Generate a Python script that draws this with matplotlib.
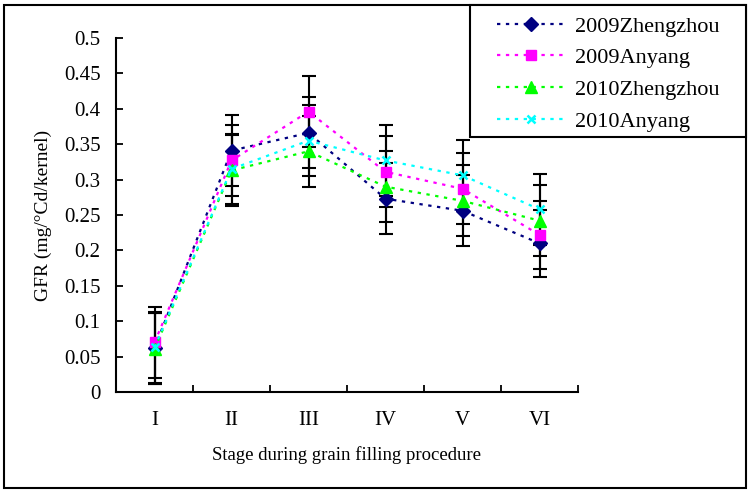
import matplotlib
matplotlib.use("Agg")
import matplotlib.pyplot as plt
from matplotlib.patches import Rectangle

plt.rcParams['font.family'] = ['Liberation Serif', 'DejaVu Serif']

# Stages and GFR values
stages = ["I", "II", "III", "IV", "V", "VI"]
zz2009 = [0.062, 0.341, 0.366, 0.273, 0.256, 0.210]
ay2009 = [0.070, 0.327, 0.396, 0.311, 0.287, 0.222]
zz2010 = [0.061, 0.313, 0.340, 0.290, 0.270, 0.242]
ay2010 = [0.063, 0.315, 0.355, 0.327, 0.306, 0.258]

# error bar half widths
err_zz2009 = [0.050, 0.050, 0.050, 0.050, 0.050, 0.047]
err_ay2009 = [0.050, 0.050, 0.050, 0.050, 0.050, 0.048]
err_zz2010 = [0.050, 0.050, 0.050, 0.050, 0.050, 0.050]
err_ay2010 = [0.050, 0.050, 0.050, 0.050, 0.050, 0.050]

series = [
    ("2009Zhengzhou", zz2009, err_zz2009, "#000080", "D", 7),
    ("2009Anyang", ay2009, err_ay2009, "#FF00FF", "s", 7),
    ("2010Zhengzhou", zz2010, err_zz2010, "#00FF00", "^", 8),
    ("2010Anyang", ay2010, err_ay2010, "#00FFFF", "x", 6),
]

fig = plt.figure(figsize=(7.51, 4.93), dpi=100)
ax = fig.add_axes([116 / 751, 1 - 392 / 493, (578 - 116) / 751, (392 - 38) / 493])

x = list(range(len(stages)))

# error bars first, drawn in black
for name, vals, errs, color, marker, ms in series:
    ax.errorbar(x, vals, yerr=errs, fmt='none', ecolor='black',
                elinewidth=1.5, capsize=5, capthick=1.5, zorder=2)

handles = []
for name, vals, errs, color, marker, ms in series:
    mew = 1.8 if marker == "x" else 1
    h, = ax.plot(x, vals, linestyle=(0, (1.5, 2.5)), linewidth=1.6, color=color,
                 marker=marker, markersize=ms, markeredgewidth=mew,
                 markerfacecolor=color, markeredgecolor=color, label=name, zorder=3)
    handles.append(h)

ax.set_xlim(-0.5, len(stages) - 0.5)
ax.set_ylim(0, 0.5)
ax.set_yticks([0, 0.05, 0.1, 0.15, 0.2, 0.25, 0.3, 0.35, 0.4, 0.45, 0.5])
ax.set_yticklabels(["0", "0.05", "0.1", "0.15", "0.2", "0.25", "0.3",
                    "0.35", "0.4", "0.45", "0.5"])
ax.set_xticks(x)
ax.set_xticklabels(stages)
ax.set_xticks([i + 0.5 for i in x], minor=True)
ax.tick_params(axis='x', which='major', length=0, pad=14, labelsize=15)
ax.tick_params(axis='x', which='minor', direction='in', length=5, width=1.3)
ax.tick_params(axis='y', direction='in', length=5, width=1.3, pad=11, labelsize=15)

for side in ["top", "right"]:
    ax.spines[side].set_visible(False)
for side in ["left", "bottom"]:
    ax.spines[side].set_linewidth(1.5)

ax.set_xlabel("Stage during grain filling procedure", fontsize=13.5, labelpad=11)
ax.set_ylabel("GFR (mg/\u00b0Cd/kernel)", fontsize=14, labelpad=9)

# outer frame around the whole picture
fig.patches.append(Rectangle((4 / 751, 1 - 488 / 493), 742 / 751, 483 / 493,
                             transform=fig.transFigure, fill=False,
                             edgecolor='black', linewidth=1.5))

# legend box drawn separately so the entries can sit indented like the original
fig.patches.append(Rectangle((470 / 751, 1 - 137 / 493), 276 / 751, 132 / 493,
                             transform=fig.transFigure, facecolor='white',
                             edgecolor='black', linewidth=1.5, zorder=5))
leg = fig.legend(handles=handles, loc='upper left',
                 bbox_to_anchor=(497 / 751, 1 - 16 / 493),
                 fontsize=16, frameon=False, borderaxespad=0, borderpad=0,
                 handlelength=3.1, labelspacing=0.5, handletextpad=0.4)
leg.set_zorder(6)

fig.savefig("out.png", dpi=100)
